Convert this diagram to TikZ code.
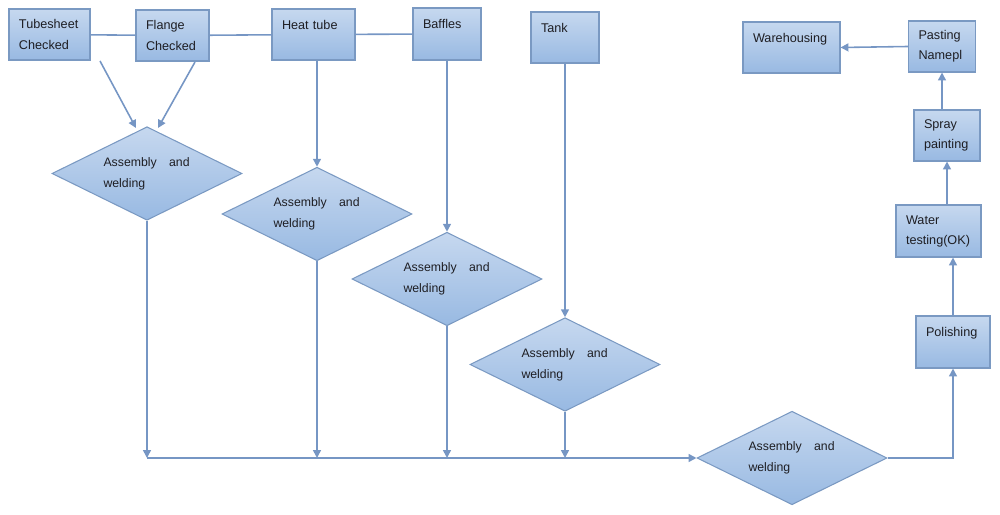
\documentclass[tikz,border=0pt]{standalone}
\usepackage{fontspec}
\setmainfont{Liberation Sans}
\usetikzlibrary{shapes.geometric, arrows.meta}
\definecolor{boxtop}{RGB}{198,216,239}
\definecolor{boxbot}{RGB}{152,185,226}
\definecolor{boxline}{RGB}{122,153,194}
\definecolor{wire}{RGB}{118,150,196}
\definecolor{txt}{RGB}{30,30,35}

\begin{document}
\begin{tikzpicture}[x=0.2mm, y=-0.2mm]
\tikzstyle{block} = [rectangle, draw=boxline, line width=0.6pt, top color=boxtop, bottom color=boxbot, align=left, inner xsep=2mm, inner ysep=0pt, minimum height=10.2mm, text=txt, font=\fontsize{7.2}{11.4}\selectfont]
\tikzstyle{decision} = [diamond, draw=boxline, line width=0.6pt, top color=boxtop, bottom color=boxbot, aspect=2, inner sep=0pt, minimum width=38mm, minimum height=18.7mm, text width=17.4mm, align=left, text=txt, font=\fontsize{7}{11.8}\selectfont]
\tikzstyle{line} = [draw=wire, line width=0.9pt, -{Triangle[width=4.5pt, length=4.5pt]}]
\tikzstyle{link} = [draw=wire, line width=0.9pt]

\useasboundingbox (0,0) rectangle (1000,515);

% parts
\node [block, minimum width=16.2mm, text width=12.2mm] (tube) at (49.5,34.5) {Tubesheet\\Checked};
\node [block, minimum width=14.6mm, text width=10.6mm] (flange) at (172.5,35.5) {Flange\\Checked};
\node [block, minimum width=16.6mm, text width=12.6mm] (heat) at (313.5,34.5) {Heat tube\\~};
\node [block, minimum width=13.6mm, text width=9.6mm, minimum height=10.4mm] (baffles) at (447,34) {Baffles\\~};
\node [block, minimum width=13.6mm, text width=9.6mm] (tank) at (565,37.5) {Tank\\~};

% assembly steps
\node [decision] (d1) at (147,173.5) {Assembly\ \ \ and\\welding};
\node [decision] (d2) at (317,214) {Assembly\ \ \ and\\welding};
\node [decision] (d3) at (447,279) {Assembly\ \ \ and\\welding};
\node [decision] (d4) at (565,364.5) {Assembly\ \ \ and\\welding};
\node [decision] (d5) at (792,458) {Assembly\ \ \ and\\welding};

% finishing
\node [block, minimum width=14.8mm, text width=10.8mm, minimum height=10.4mm] (polish) at (953,342) {Polishing\\~};
\node [block, minimum width=17mm, text width=13mm, minimum height=10.4mm] (water) at (938.5,231) {Water\\testing(OK)};
\node [block, minimum width=13.2mm, text width=9.2mm] (spray) at (947,135.5) {Spray\\painting};
\node [block, minimum width=13.4mm, text width=9.4mm] (paste) at (942,46.5) {Pasting\\Namepl};
\node [block, minimum width=19.4mm, text width=15.4mm] (ware) at (791.5,47.5) {Warehousing\\~};

\coordinate (tubeout) at (100,61);
\coordinate (flangeout) at (195,62);
\coordinate (d1inl) at (136,128);
\coordinate (d1inr) at (158,128);
\coordinate (join) at (147,458);

\path [link] (tube) -- (flange);
\path [link] (flange) -- (heat);
\path [link] (heat) -- (baffles);

\path [line] (tubeout) -- (d1inl);
\path [line] (flangeout) -- (d1inr);
\path [line] (heat.south -| d2.north) -- (d2.north);
\path [line] (baffles.south -| d3.north) -- (d3.north);
\path [line] (tank.south -| d4.north) -- (d4.north);

\path [line] (d1.south) -- (join);
\path [line] (d2.south) -- (d2.south |- join);
\path [line] (d3.south) -- (d3.south |- join);
\path [line] (d4.south) -- (d4.south |- join);
\path [line] (join) -- (d5.west);

\path [line] (d5.east) -| (polish.south);
\path [line] (polish.north) -- (polish.north |- water.south);
\path [line] (water.north -| spray.south) -- (spray.south);
\path [line] (spray.north -| paste.south) -- (paste.south);
\path [line] (paste.west) -- (ware.east);
\end{tikzpicture}
\end{document}
